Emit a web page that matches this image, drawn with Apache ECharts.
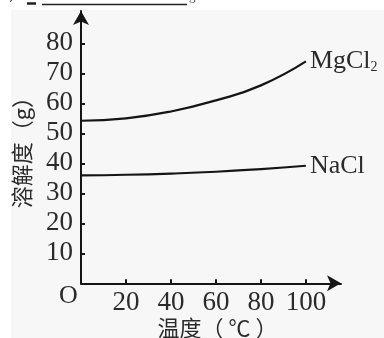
<!DOCTYPE html>
<html>
<head>
<meta charset="utf-8">
<script src="https://cdn.jsdelivr.net/npm/echarts@6/dist/echarts.min.js"></script>
<style>
  html, body { margin: 0; padding: 0; background: #fff; }
  #chart { width: 384px; height: 338px; }
</style>
</head>
<body>
<div id="chart"></div>
<script>
// 温度 (℃) 与溶解度 (g)
const temps = [0, 20, 40, 60, 80, 100];
const mgcl2 = [54.2, 55.0, 57.3, 61.0, 66.0, 74.0];
const nacl = [36.0, 36.2, 36.6, 37.2, 38.1, 39.2];
const xTicks = [20, 40, 60, 80, 100];
const yTicks = [10, 20, 30, 40, 50, 60, 70, 80];

const serif = "'Liberation Serif', 'DejaVu Serif', serif";
const cjk = "'Noto Sans CJK SC', sans-serif";
const ink = '#151515';
const textColor = '#2b2b2b';

function pairs(ys) {
  return temps.map((t, i) => [t, ys[i]]);
}

const chart = echarts.init(document.getElementById('chart'));
chart.setOption({
  animation: false,
  backgroundColor: '#fff',
  graphic: [
    // 灰色底
    { type: 'rect', z: -10, shape: { x: 11, y: 10, width: 373, height: 328 }, style: { fill: '#f7f7f7' } },
    // 顶部残留的题目文字
    { type: 'line', shape: { x1: 42, y1: 4.5, x2: 187, y2: 4.5 }, style: { stroke: '#222', lineWidth: 1.5 } },
    { type: 'line', shape: { x1: 27, y1: 3.5, x2: 36, y2: 3.5 }, style: { stroke: '#222', lineWidth: 2.5 } },
    { type: 'text', left: 9, top: -14, style: { text: '）', font: '16px ' + cjk, fill: '#444' } },
    { type: 'text', left: 189, top: -10, style: { text: 'g', font: '13px ' + serif, fill: '#555' } },
    // 原点 O
    { type: 'text', left: 59, top: 283, style: { text: 'O', font: '26px ' + serif, fill: textColor } }
  ],
  grid: {
    left: 81,
    right: 43,
    top: 11,
    bottom: 54.7,
    outerBoundsMode: 'none'
  },
  xAxis: {
    type: 'value',
    min: 0,
    max: 115.6,
    interval: 20,
    name: '温度（ ℃ ）',
    nameLocation: 'middle',
    nameGap: 33,
    nameMoveOverlap: false,
    nameTextStyle: { fontFamily: cjk, fontSize: 22, color: textColor, padding: [0, 0, 0, 13] },
    splitLine: { show: false },
    axisLine: {
      lineStyle: { color: ink, width: 2 },
      symbol: ['none', 'arrow'],
      symbolSize: [12, 14]
    },
    axisTick: { customValues: xTicks, inside: true, length: 4, lineStyle: { color: ink, width: 2 } },
    axisLabel: {
      customValues: xTicks,
      margin: 6,
      fontFamily: serif,
      fontSize: 27,
      color: textColor
    }
  },
  yAxis: {
    type: 'value',
    min: 0,
    max: 90.8,
    interval: 10,
    name: '溶解度（g）',
    nameLocation: 'middle',
    nameRotate: 90,
    nameGap: 48,
    nameMoveOverlap: false,
    nameTextStyle: { fontFamily: cjk, fontSize: 22, color: textColor },
    splitLine: { show: false },
    axisLine: {
      lineStyle: { color: ink, width: 2 },
      symbol: ['none', 'arrow'],
      symbolSize: [12, 14]
    },
    axisTick: { customValues: yTicks, inside: true, length: 4, lineStyle: { color: ink, width: 2 } },
    axisLabel: {
      customValues: yTicks,
      margin: 8,
      fontFamily: serif,
      fontSize: 27,
      color: textColor
    }
  },
  series: [
    {
      name: 'MgCl2',
      type: 'line',
      smooth: true,
      showSymbol: false,
      lineStyle: { color: ink, width: 2.2 },
      data: pairs(mgcl2),
      endLabel: {
        show: true,
        distance: 4,
        formatter: '{a|MgCl}{s|2}',
        rich: {
          a: { fontFamily: serif, fontSize: 26, color: textColor },
          s: { fontFamily: serif, fontSize: 14, color: textColor, padding: [12, 0, 0, 0] }
        }
      }
    },
    {
      name: 'NaCl',
      type: 'line',
      smooth: true,
      showSymbol: false,
      lineStyle: { color: ink, width: 2.2 },
      data: pairs(nacl),
      endLabel: {
        show: true,
        distance: 4,
        formatter: 'NaCl',
        fontFamily: serif,
        fontSize: 26,
        color: textColor
      }
    }
  ]
});
</script>
</body>
</html>
